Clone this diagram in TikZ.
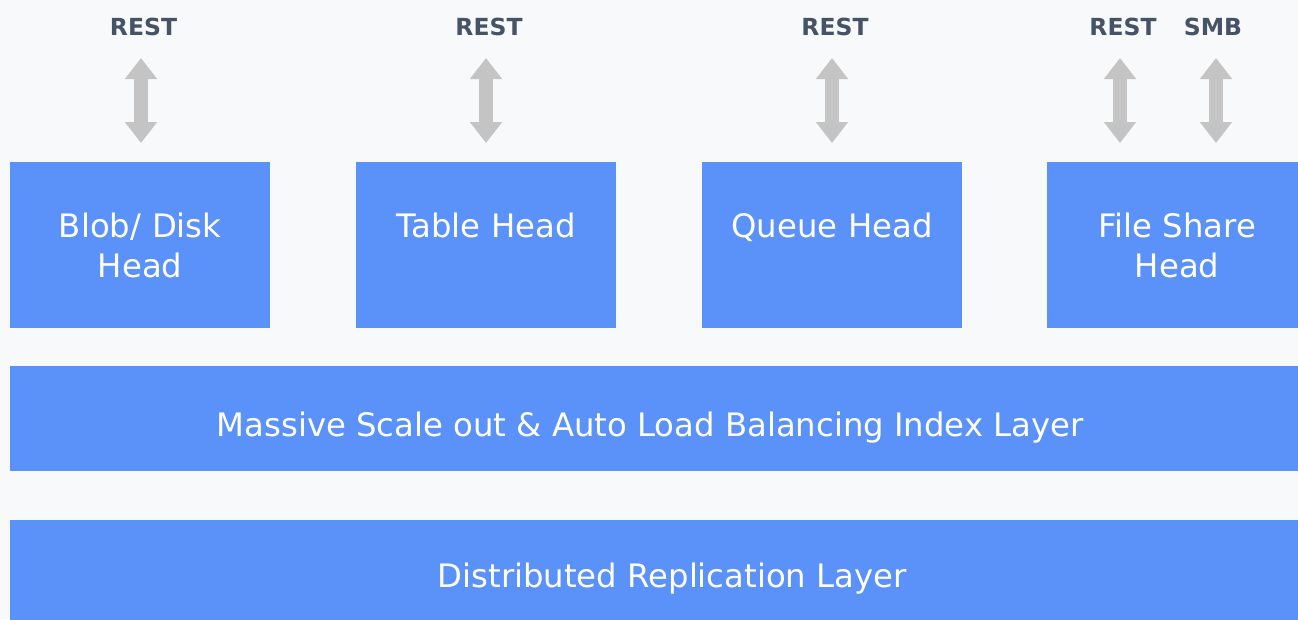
\documentclass[tikz,border=0pt]{standalone}
\usepackage{fontspec}
\setmainfont{DejaVu Sans}
\usetikzlibrary{arrows.meta}

\definecolor{pagebg}{HTML}{F8F9FB}
\definecolor{tileblue}{HTML}{5B92F9}
\definecolor{apigray}{HTML}{C4C4C4}
\definecolor{apitext}{HTML}{465266}

\begin{document}
\begin{tikzpicture}[x=1pt, y=-1pt,
  headbox/.style={rectangle, fill=tileblue, inner sep=0pt,
    minimum width=260pt, text width=250pt, align=center, text=white,
    font=\fontsize{32.3}{40}\selectfont,
    text height=75pt, text depth=91pt, anchor=north west},
  layerbox/.style={rectangle, fill=tileblue, inner sep=0pt,
    minimum width=1298pt, text=white,
    font=\fontsize{32.3}{40}\selectfont, anchor=north west},
  api/.style={text=apitext, inner sep=0pt, anchor=base,
    font=\fontsize{23.5}{28}\selectfont\bfseries},
  io/.style={draw=apigray, line width=14pt,
    {Triangle[width=31pt,length=21pt]}-{Triangle[width=31pt,length=21pt]}}
]
% page and clipping window
\useasboundingbox (0,0) rectangle (1298,619);
\fill[pagebg] (0,0) rectangle (1298,619);
\clip (0,0) rectangle (1298,619);

% service heads
\node[headbox] (blob)  at (10,162)   {Blob/ Disk\\Head};
\node[headbox] (table) at (356,162)  {Table Head};
\node[headbox] (queue) at (702,162)  {Queue Head};
\node[headbox] (file)  at (1047,162) {File Share\\Head};

% shared layers
\node[layerbox, text height=70pt, text depth=35pt] (index) at (10,366)
  {\hspace*{-18pt}Massive Scale out \& Auto Load Balancing Index Layer};
\node[layerbox, text height=67pt, text depth=40pt] (repl) at (10,520)
  {\hspace*{26pt}Distributed Replication Layer};

% protocol labels
\node[api] (rest1) at (143.5,35) {REST};
\node[api] (rest2) at (489,35)   {REST};
\node[api] (rest3) at (835,35)   {REST};
\node[api] (rest4) at (1123,35)  {REST};
\node[api] (smb)   at (1213,35)  {SMB};

% protocol arrows between label and head
\coordinate (a1t) at (141,58);  \coordinate (a1b) at (141,143);
\coordinate (a2t) at (486,58);  \coordinate (a2b) at (486,143);
\coordinate (a3t) at (832,58);  \coordinate (a3b) at (832,143);
\coordinate (a4t) at (1120,58); \coordinate (a4b) at (1120,143);
\coordinate (a5t) at (1216,58); \coordinate (a5b) at (1216,143);
\draw[io] (a1t) -- (a1b);
\draw[io] (a2t) -- (a2b);
\draw[io] (a3t) -- (a3b);
\draw[io] (a4t) -- (a4b);
\draw[io] (a5t) -- (a5b);
\end{tikzpicture}
\end{document}
